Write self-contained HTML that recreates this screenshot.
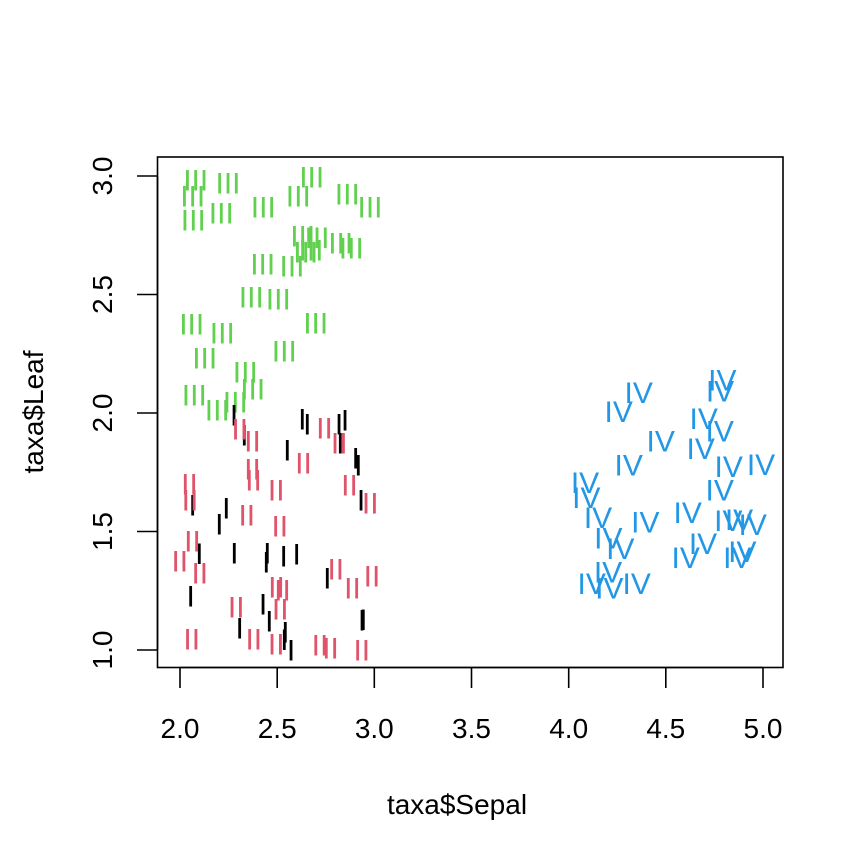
<!DOCTYPE html>
<html><head><meta charset="utf-8"><style>
html,body{margin:0;padding:0;background:#fff;}
svg{display:block;font-family:"Liberation Sans",Arial,sans-serif;}
</style></head><body>
<svg width="864" height="864" viewBox="0 0 864 864" xmlns="http://www.w3.org/2000/svg">
<rect width="864" height="864" fill="#fff"/>
<g font-size="30" text-anchor="middle">
<g fill="#61D04F">
<text x="195.7" y="190.3">III</text><text x="192.7" y="206.3">III</text><text x="193.3" y="230.5">III</text>
<text x="228" y="193.3">III</text><text x="221.3" y="223.3">III</text><text x="263.3" y="217.3">III</text>
<text x="311.7" y="187.3">III</text><text x="298.3" y="206.3">III</text><text x="347.3" y="204.3">III</text>
<text x="370" y="217.3">III</text><text x="302.7" y="246.3">III</text><text x="317" y="248">III</text>
<text x="340.7" y="253.3">III</text><text x="351.3" y="258.3">III</text><text x="305.7" y="262.3">III</text>
<text x="311" y="260.7">III</text><text x="262.7" y="274.3">III</text><text x="292" y="276.3">III</text>
<text x="251.3" y="307.3">III</text><text x="278.3" y="309.3">III</text><text x="191.7" y="334.3">III</text>
<text x="222.3" y="343.3">III</text><text x="315.7" y="333.3">III</text><text x="204.7" y="368.3">III</text>
<text x="284.3" y="361.3">III</text><text x="245.3" y="382.3">III</text><text x="252.7" y="399.3">III</text>
<text x="194.3" y="405.3">III</text><text x="217.3" y="420.3">III</text><text x="235.3" y="412.3">III</text>
</g>
<g fill="#000">
<text x="234" y="425.5">I</text><text x="244.3" y="445.5">I</text><text x="302.3" y="429.3">I</text>
<text x="307.3" y="434.5">I</text><text x="339" y="434.5">I</text><text x="345" y="430.5">I</text>
<text x="340.3" y="453.5">I</text><text x="287.3" y="460.5">I</text><text x="355.7" y="468.5">I</text>
<text x="358.3" y="475.5">I</text><text x="192.7" y="515.5">I</text><text x="361" y="510.5">I</text>
<text x="226.3" y="518.5">I</text><text x="219.3" y="534.5">I</text><text x="199.3" y="564.2">I</text>
<text x="234.3" y="563.3">I</text><text x="267.3" y="563.3">I</text><text x="266.3" y="572.5">I</text>
<text x="283.7" y="566.5">I</text><text x="296.7" y="564.5">I</text><text x="327.3" y="588.5">I</text>
<text x="190.7" y="606.3">I</text><text x="263" y="614.5">I</text><text x="269.3" y="631.5">I</text>
<text x="239.7" y="638.5">I</text><text x="285.3" y="642.5">I</text><text x="284.3" y="649.8">I</text>
<text x="291" y="660.5">I</text><text x="362" y="630.5">I</text><text x="363.3" y="630">I</text>
</g>
<g fill="#DF536B">
<text x="239.7" y="439.7">II</text><text x="252.5" y="451.7">II</text><text x="324.5" y="438.3">II</text>
<text x="339.2" y="453.7">II</text><text x="303.5" y="473.3">II</text><text x="252.5" y="479.3">II</text>
<text x="253.5" y="490.3">II</text><text x="189.5" y="494.3">II</text><text x="190" y="510.3">II</text>
<text x="276.2" y="500.3">II</text><text x="349.5" y="495.3">II</text><text x="370.2" y="513.3">II</text>
<text x="246.8" y="525.3">II</text><text x="279.8" y="536.3">II</text><text x="192.5" y="551.3">II</text>
<text x="179.8" y="571.3">II</text><text x="199.8" y="583.3">II</text><text x="276.5" y="597.3">II</text>
<text x="282.5" y="600.3">II</text><text x="335.8" y="579.3">II</text><text x="352.5" y="598.3">II</text>
<text x="372" y="586.3">II</text><text x="236.2" y="617.3">II</text><text x="280.2" y="619.3">II</text>
<text x="191.7" y="649.3">II</text><text x="253.8" y="649.3">II</text><text x="276.2" y="654.3">II</text>
<text x="320" y="655.3">II</text><text x="330.5" y="658.3">II</text><text x="361.8" y="660.3">II</text>
</g>
<g fill="#2297E6">
<text x="638.7" y="403.2">IV</text><text x="618.7" y="422.2">IV</text><text x="722.3" y="390.5">IV</text>
<text x="720" y="401.3">IV</text><text x="703.7" y="429">IV</text><text x="719.7" y="441.5">IV</text>
<text x="660.7" y="451.5">IV</text><text x="700.7" y="459">IV</text><text x="628.7" y="475.5">IV</text>
<text x="728.7" y="477.2">IV</text><text x="761" y="475">IV</text><text x="585" y="493.2">IV</text>
<text x="586.3" y="508.2">IV</text><text x="719.7" y="500.5">IV</text><text x="598" y="528">IV</text>
<text x="645.3" y="532.3">IV</text><text x="687.7" y="523.2">IV</text><text x="728.3" y="531.2">IV</text>
<text x="739" y="530.2">IV</text><text x="752.7" y="535.2">IV</text><text x="608.3" y="548.5">IV</text>
<text x="620.3" y="559.2">IV</text><text x="703" y="554.2">IV</text><text x="685.7" y="568.2">IV</text>
<text x="737.3" y="568.2">IV</text><text x="742.3" y="562.2">IV</text><text x="608" y="582.3">IV</text>
<text x="591.7" y="594.2">IV</text><text x="609.3" y="598.5">IV</text><text x="636.7" y="594.2">IV</text>
</g>
</g>
<rect x="157.5" y="157" width="625.5" height="510.5" fill="none" stroke="#000" stroke-width="1.6"/>
<g stroke="#000" stroke-width="1.6">
<line x1="180" y1="667.5" x2="763" y2="667.5"/>
<line x1="180" y1="667.5" x2="180" y2="688"/><line x1="277.2" y1="667.5" x2="277.2" y2="688"/>
<line x1="374.3" y1="667.5" x2="374.3" y2="688"/><line x1="471.5" y1="667.5" x2="471.5" y2="688"/>
<line x1="568.7" y1="667.5" x2="568.7" y2="688"/><line x1="665.8" y1="667.5" x2="665.8" y2="688"/>
<line x1="763" y1="667.5" x2="763" y2="688"/>
<line x1="157.5" y1="176" x2="157.5" y2="650"/>
<line x1="137" y1="650" x2="157.5" y2="650"/><line x1="137" y1="531.5" x2="157.5" y2="531.5"/>
<line x1="137" y1="413" x2="157.5" y2="413"/><line x1="137" y1="294.5" x2="157.5" y2="294.5"/>
<line x1="137" y1="176" x2="157.5" y2="176"/>
</g>
<g font-size="28" text-anchor="middle" fill="#000">
<text x="180" y="738">2.0</text><text x="277.2" y="738">2.5</text><text x="374.3" y="738">3.0</text>
<text x="471.5" y="738">3.5</text><text x="568.7" y="738">4.0</text><text x="665.8" y="738">4.5</text>
<text x="763" y="738">5.0</text>
<text transform="translate(112,650) rotate(-90)">1.0</text>
<text transform="translate(112,531.5) rotate(-90)">1.5</text>
<text transform="translate(112,413) rotate(-90)">2.0</text>
<text transform="translate(112,294.5) rotate(-90)">2.5</text>
<text transform="translate(112,176) rotate(-90)">3.0</text>
<text x="457" y="814">taxa$Sepal</text>
<text transform="translate(43,412) rotate(-90)">taxa$Leaf</text>
</g>
</svg>
</body></html>
